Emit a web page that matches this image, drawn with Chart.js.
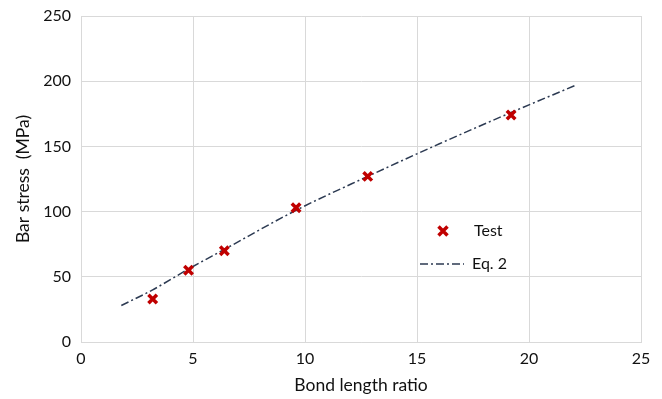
<!DOCTYPE html>
<html>
<head>
<meta charset="utf-8">
<script src="https://cdn.jsdelivr.net/npm/chart.js@4/dist/chart.umd.min.js"></script>
<style>
html,body{margin:0;padding:0;background:#fff;}
#wrap{width:662px;height:399px;position:relative;}
</style>
</head>
<body>
<div id="wrap"><canvas id="c" width="662" height="399"></canvas></div>
<script>
// Test data (bond length ratio, bar stress MPa)
const testX = [3.2, 4.8, 6.4, 9.6, 12.8, 19.2];
const testY = [33, 55, 70, 103, 127, 174];
// Eq. 2 curve
const eqX = [1.8, 3.2, 4.8, 6.4, 9.6, 12.8, 16.0, 19.2, 22.1];
const eqY = [28, 40, 56, 71, 101, 127, 152, 176, 197];
const xTicks = [0, 5, 10, 15, 20, 25];
const yTicks = [0, 50, 100, 150, 200, 250];
const seriesNames = ['Test', 'Eq. 2'];

const FONT = 'Lato, "Open Sans", sans-serif';
const RED = '#c00000';
const LINE = '#2c3a52';

const legendPlugin = {
  id: 'insideLegend',
  afterDraw(chart) {
    const ctx = chart.ctx;
    ctx.save();
    ctx.strokeStyle = RED;
    ctx.lineWidth = 3.5;
    const mx = 443, my = 231, r = 4.5;
    ctx.beginPath();
    ctx.moveTo(mx - r, my - r); ctx.lineTo(mx + r, my + r);
    ctx.moveTo(mx + r, my - r); ctx.lineTo(mx - r, my + r);
    ctx.stroke();
    ctx.fillStyle = '#111';
    ctx.font = '16px ' + FONT;
    ctx.textBaseline = 'middle';
    ctx.fillText(seriesNames[0], 474, 231);
    ctx.strokeStyle = LINE;
    ctx.lineWidth = 1.5;
    ctx.setLineDash([8, 3, 2, 3]);
    ctx.beginPath();
    ctx.moveTo(420, 264); ctx.lineTo(464, 264);
    ctx.stroke();
    ctx.setLineDash([]);
    ctx.fillText(seriesNames[1], 472, 264);
    ctx.restore();
  }
};

new Chart(document.getElementById('c'), {
  type: 'scatter',
  data: {
    datasets: [
      {
        label: seriesNames[0],
        data: testX.map((x, i) => ({x: x, y: testY[i]})),
        pointStyle: 'crossRot',
        pointRadius: 6,
        pointBorderWidth: 3.5,
        borderColor: RED,
        backgroundColor: RED,
        showLine: false,
        order: 0
      },
      {
        label: seriesNames[1],
        data: eqX.map((x, i) => ({x: x, y: eqY[i]})),
        showLine: true,
        pointRadius: 0,
        borderColor: LINE,
        borderWidth: 1.5,
        borderDash: [8, 3, 2, 3],
        cubicInterpolationMode: 'monotone',
        fill: false,
        order: 1
      }
    ]
  },
  options: {
    responsive: false,
    animation: false,
    layout: {padding: {left: 0, right: 21, top: 16, bottom: 0}},
    plugins: {legend: {display: false}, tooltip: {enabled: false}},
    scales: {
      x: {
        type: 'linear',
        min: 0, max: 25,
        afterBuildTicks: s => { s.ticks = xTicks.map(v => ({value: v})); },
        grid: {color: '#d9d9d9', lineWidth: 1, drawTicks: false},
        border: {color: '#d9d9d9'},
        ticks: {color: '#111', font: {family: FONT, size: 16}, padding: 7},
        title: {display: true, text: 'Bond length ratio', color: '#111', font: {family: FONT, size: 17.5}, padding: {top: 4, bottom: 3}},
        afterFit: s => { s.height = 57; }
      },
      y: {
        type: 'linear',
        min: 0, max: 250,
        afterBuildTicks: s => { s.ticks = yTicks.map(v => ({value: v})); },
        grid: {color: '#d9d9d9', lineWidth: 1, drawTicks: false},
        border: {color: '#d9d9d9'},
        ticks: {color: '#111', font: {family: FONT, size: 16, lineHeight: 1}, padding: 10},
        title: {display: true, text: 'Bar stress  (MPa)', color: '#111', font: {family: FONT, size: 17.5}, padding: {top: 13, bottom: 4}},
        afterFit: s => { s.width = 81; s.paddingTop = 0; s.paddingBottom = 0; }
      }
    }
  },
  plugins: [legendPlugin]
});
</script>
</body>
</html>
